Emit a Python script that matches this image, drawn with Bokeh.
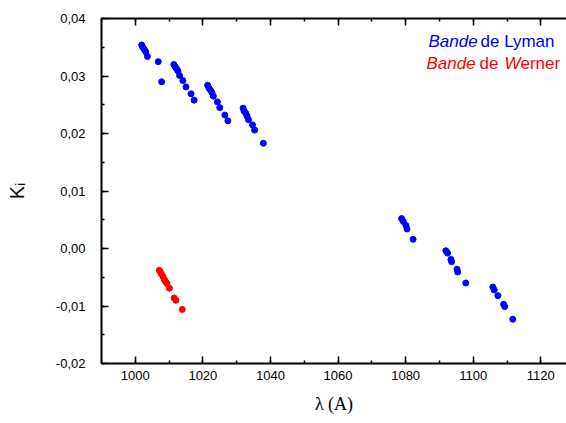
from bokeh.plotting import figure
from bokeh.models import Range1d, LinearAxis, SingleIntervalTicker, CustomJSTickFormatter, Label, Title
from bokeh.embed import file_html
from bokeh.resources import INLINE

# Bande de Lyman (blue)
lyman_x = [1001.9, 1002.2, 1002.7, 1003.1, 1003.6, 1006.8, 1007.8,
           1011.4, 1011.8, 1012.2, 1012.6, 1013.1, 1014.1, 1015.0, 1016.5, 1017.4,
           1021.4, 1021.8, 1022.3, 1022.7, 1023.1, 1024.3, 1025.0, 1026.5, 1027.4,
           1031.9, 1032.2, 1032.7, 1033.1, 1033.5, 1034.7, 1035.3, 1037.9,
           1078.8, 1079.3, 1080.1, 1080.4, 1082.2,
           1091.9, 1092.4, 1093.4, 1093.6, 1095.2, 1095.4, 1097.8,
           1105.8, 1106.2, 1107.3, 1109.0, 1109.3, 1111.7]
lyman_y = [0.0354, 0.0350, 0.0346, 0.0342, 0.0334, 0.0325, 0.0290,
           0.0320, 0.0316, 0.0313, 0.0309, 0.0301, 0.0292, 0.0281, 0.0269, 0.0258,
           0.0284, 0.0279, 0.0275, 0.0271, 0.0265, 0.0255, 0.0245, 0.0232, 0.0222,
           0.0244, 0.0239, 0.0235, 0.0230, 0.0224, 0.0215, 0.0206, 0.0183,
           0.0052, 0.0047, 0.0040, 0.0034, 0.0016,
           -0.0004, -0.0008, -0.0019, -0.0023, -0.0036, -0.0041, -0.0060,
           -0.0067, -0.0072, -0.0082, -0.0097, -0.0101, -0.0123]

# Bande de Werner (red)
werner_x = [1007.1, 1007.4, 1007.8, 1008.2, 1008.6, 1009.0, 1009.4, 1010.1, 1011.5, 1012.0, 1013.9]
werner_y = [-0.0038, -0.0041, -0.0045, -0.0049, -0.0054, -0.0058, -0.0061, -0.0069, -0.0086, -0.0090, -0.0106]

x_ticks_interval = 20
y_ticks_interval = 0.01

p = figure(width=566, height=423, output_backend="svg", toolbar_location=None,
           x_range=Range1d(990, 1127.6), y_range=Range1d(-0.02, 0.04),
           min_border_left=101, min_border_right=0, min_border_top=18, min_border_bottom=60,
           x_axis_location=None, y_axis_location=None)
p.outline_line_color = None
p.background_fill_color = "white"
p.border_fill_color = "white"
p.grid.visible = False

xt = SingleIntervalTicker(interval=x_ticks_interval, num_minor_ticks=2)
yt = SingleIntervalTicker(interval=y_ticks_interval, num_minor_ticks=2)

def style(ax):
    ax.axis_line_width = 2
    ax.axis_line_color = "black"
    ax.major_tick_in = 7
    ax.major_tick_out = 0
    ax.minor_tick_in = 3
    ax.minor_tick_out = 0
    ax.major_tick_line_width = 1.5
    ax.minor_tick_line_width = 1.5
    ax.major_label_text_font = "Liberation Sans"
    ax.major_label_text_font_size = "13px"
    ax.major_label_text_color = "black"

xb = LinearAxis(ticker=xt)
style(xb)
xb.major_label_standoff = 7
p.add_layout(xb, "below")

xa = LinearAxis(ticker=xt, formatter=CustomJSTickFormatter(code="return '';"))
style(xa)
xa.major_label_standoff = 0
p.add_layout(xa, "above")

yl = LinearAxis(ticker=yt, formatter=CustomJSTickFormatter(code="return tick.toFixed(2).replace('.', ',');"))
style(yl)
yl.major_label_standoff = 16
yl.axis_label = "Kᵢ"
yl.axis_label_text_font = "Liberation Sans"
yl.axis_label_text_font_size = "20px"
yl.axis_label_text_font_style = "normal"
yl.axis_label_text_color = "black"
yl.axis_label_standoff = 25
p.add_layout(yl, "left")

p.add_layout(Title(text="λ (A)", align="center", offset=-15, text_font="Liberation Serif",
                   text_font_size="18px", text_font_style="normal", text_color="black",
                   standoff=18), "below")

p.scatter(lyman_x, lyman_y, size=6, marker="circle", color="#0000FF")
p.scatter(werner_x, werner_y, size=6, marker="circle", color="#FF0000")

def lab(x, y, t, color="black", size="17px", style="normal"):
    p.add_layout(Label(x=x, y=y, x_units="screen", y_units="screen", text=t,
                       text_color=color, text_font_size=size, text_font_style=style,
                       text_font="Liberation Sans", text_align="left",
                       text_baseline="alphabetic"))

# legend texts
lab(327, 321.7, "Bande", color="#0000FF", style="italic")
lab(379, 321.7, "de Lyman", color="#0000FF")
lab(325, 299.7, "Bande", color="#FF0000", style="italic")
lab(378, 299.7, "de", color="#FF0000")
lab(403, 299.7, "W", color="#FF0000", style="italic")
lab(419, 299.7, "erner", color="#FF0000")

open("out.html", "w").write(file_html(p, INLINE))
